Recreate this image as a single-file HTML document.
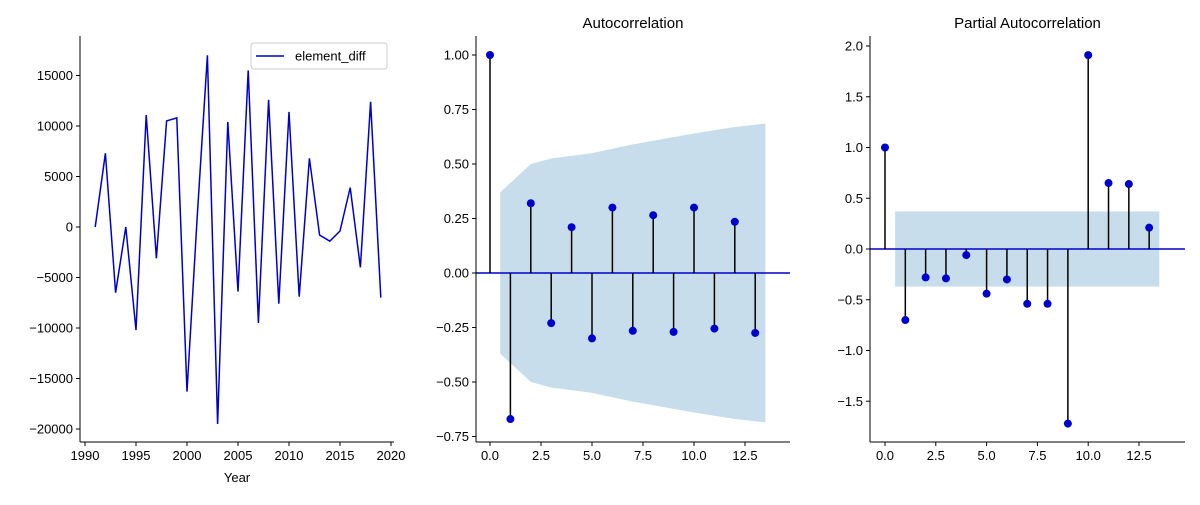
<!DOCTYPE html>
<html><head><meta charset="utf-8"><style>
body{margin:0;background:#fff}
text{font-family:"Liberation Sans","DejaVu Sans",sans-serif;font-size:13px;fill:#000}
</style></head><body>
<svg id="c" width="1200" height="500" xmlns="http://www.w3.org/2000/svg"></svg>
<script>
const years=[1991,1992,1993,1994,1995,1996,1997,1998,1999,2000,2001,2002,2003,2004,2005,2006,2007,2008,2009,2010,2011,2012,2013,2014,2015,2016,2017,2018,2019];
const diffValues=[0,7300,-6500,0,-10200,11100,-3100,10500,10800,-16300,1000,17000,-19500,10400,-6400,15500,-9500,12600,-7600,11400,-6900,6800,-800,-1400,-400,3900,-4000,12400,-7000];
const yearTicks=[1990,1995,2000,2005,2010,2015,2020];
const diffTicks=[-20000,-15000,-10000,-5000,0,5000,10000,15000];
const acfValues=[1,-0.67,0.32,-0.23,0.21,-0.30,0.30,-0.265,0.265,-0.27,0.30,-0.255,0.235,-0.275];
const acfBandLags=[0.5,2,3,5,7,10,12,13.5];
const acfBandUpper=[0.37,0.50,0.525,0.55,0.59,0.64,0.67,0.685];
const acfTicks=[-0.75,-0.5,-0.25,0,0.25,0.5,0.75,1.0];
const pacfValues=[1,-0.7,-0.28,-0.29,-0.06,-0.44,-0.30,-0.54,-0.54,-1.72,1.91,0.65,0.64,0.21];
const pacfBand=0.37;
const pacfTicks=[-1.5,-1.0,-0.5,0,0.5,1.0,1.5,2.0];
const lagTicks=[0,2.5,5,7.5,10,12.5];

const svg=document.getElementById('c');const NS='http://www.w3.org/2000/svg';
function el(t,a,p){const e=document.createElementNS(NS,t);for(const k in a)e.setAttribute(k,a[k]);(p||svg).appendChild(e);return e;}
function lin(d0,d1,r0,r1){return v=>r0+(v-d0)*(r1-r0)/(d1-d0);}
function axes(L,R,T,B,x,y,xt,yt,xfmt,fmt,name){
  const g=el('g',{});
  
  
  el('line',{x1:L,y1:T,x2:L,y2:B,stroke:'#000','stroke-width':1},g);
  el('line',{x1:L,y1:B,x2:R,y2:B,stroke:'#000','stroke-width':1},g);
  xt.forEach(v=>{const X=x(v);el('line',{x1:X,y1:B,x2:X,y2:B+4,stroke:'#000'},g);
    const t=el('text',{x:X,y:B+18,'text-anchor':'middle'},g);t.textContent=xfmt(v);
    
    });
  yt.forEach(v=>{const Y=y(v);el('line',{x1:L-4,y1:Y,x2:L,y2:Y,stroke:'#000'},g);
    const t=el('text',{x:L-7,y:Y+4.5,'text-anchor':'end'},g);t.textContent=fmt(v);
    
    });
}
// Panel 1
{const x=lin(1990,2020,85,391),y=lin(0,15000,227,75.5);
 const l=el('polyline',{points:years.map((v,i)=>x(v)+','+y(diffValues[i])).join(' '),fill:'none',stroke:'#0000cc','stroke-width':1.5});
 
 
 axes(80,394,36,442,x,y,yearTicks,diffTicks,v=>String(v),v=>String(v).replace('-','−'),'series');
 const xl=el('text',{x:237,y:482,'text-anchor':'middle'});xl.textContent='Year';
 
 
 const lg=el('g',{});
 
 
 el('rect',{x:251,y:43,width:136,height:26,rx:3,fill:'#fff',stroke:'#ccc'},lg);
 el('line',{x1:256,y1:56,x2:284,y2:56,stroke:'#0000cc','stroke-width':1.5},lg);
 const lt=el('text',{x:295,y:60.5},lg);lt.textContent='element_diff';}
function stemPanel(L,R,x,y,vals,ticks,yfmt,title,name,band){
 const g=el('g',{});
 
 
 band(g);
 el('line',{x1:L,y1:y(0),x2:R,y2:y(0),stroke:'#0000cc','stroke-width':1.5});
 vals.forEach((v,i)=>{
  const s=el('line',{x1:x(i),y1:y(0),x2:x(i),y2:y(v),stroke:'#000','stroke-width':1.5});
  
  
  const c=el('circle',{cx:x(i),cy:y(v),r:4,fill:'#0000cc'});
  
  });
 axes(L,R,36,442,x,y,lagTicks,ticks,v=>v.toFixed(1),yfmt,name);
 const t=el('text',{x:(L+R)/2,y:28,'text-anchor':'middle',style:'font-size:15px'});t.textContent=title;
 
 
}
{const x=lin(0,12.5,490,745),y=lin(0,1,273,55);
 stemPanel(476,790,x,y,acfValues,acfTicks,v=>(v<0?'−':'')+Math.abs(v).toFixed(2),'Autocorrelation','acf',g=>{
  const up=acfBandLags.map((l,i)=>x(l)+','+y(acfBandUpper[i]));
  const dn=acfBandLags.map((l,i)=>x(l)+','+y(-acfBandUpper[i])).reverse();
  el('polygon',{points:up.concat(dn).join(' '),fill:'#1f77b4','fill-opacity':0.25},g);});}
{const x=lin(0,12.5,885,1139),y=lin(0,2,249,46);
 stemPanel(870,1185,x,y,pacfValues,pacfTicks,v=>(v<0?'−':'')+Math.abs(v).toFixed(1),'Partial Autocorrelation','pacf',g=>{
  el('rect',{x:x(0.5),y:y(pacfBand),width:x(13.5)-x(0.5),height:y(-pacfBand)-y(pacfBand),fill:'#1f77b4','fill-opacity':0.25},g);});}
</script>
</body></html>
